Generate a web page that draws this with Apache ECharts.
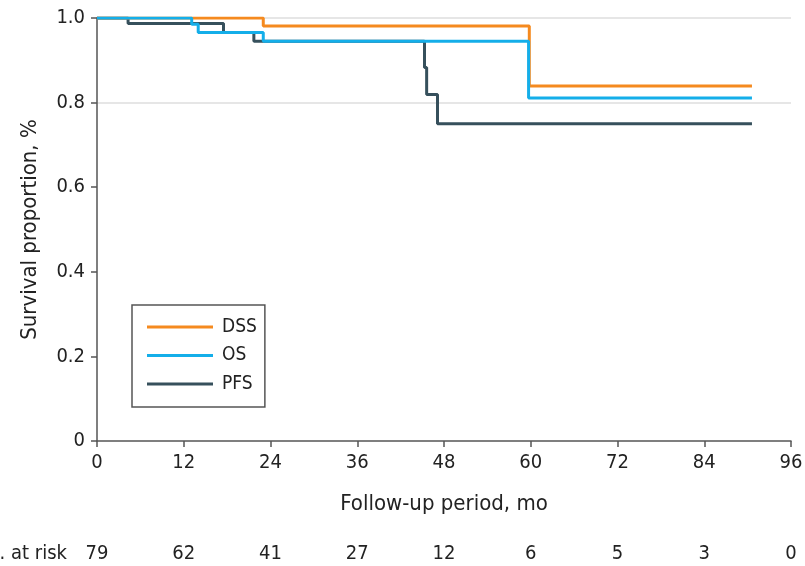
<!DOCTYPE html>
<html>
<head>
<meta charset="utf-8">
<script src="https://cdn.jsdelivr.net/npm/echarts@6/dist/echarts.min.js"></script>
<style>
  html, body { margin: 0; padding: 0; background: #fff; }
  #chart { width: 805px; height: 566px; }
</style>
</head>
<body>
<div id="chart"></div>
<script>
// Kaplan-Meier step points: [month, survival proportion]; value holds until the next point
const dssCurve = [[0, 1.0], [23.0, 0.981], [59.8, 0.839], [90.6, 0.839]];
const osCurve  = [[0, 1.0], [13.1, 0.985], [14.0, 0.966], [23.0, 0.945], [59.7, 0.811], [90.6, 0.811]];
const pfsCurve = [[0, 1.0], [4.3, 0.987], [17.5, 0.966], [21.7, 0.945], [45.3, 0.883], [45.6, 0.819], [47.1, 0.750], [90.6, 0.750]];

const seriesNames = ['DSS', 'OS', 'PFS'];
const seriesColors = ['#F58A1F', '#14AEE9', '#36505C'];
// drawing order: OS on top, then DSS, then PFS
const seriesZ = [2, 3, 1];

// Follow-up ticks (months) and patients at risk at each tick
const monthTicks = [0, 12, 24, 36, 48, 60, 72, 84, 96];
const atRisk = [79, 62, 41, 27, 12, 6, 5, 3, 0];

const FONT = '"Liberation Sans Narrow", "DejaVu Sans Condensed", "Roboto Condensed", "Liberation Sans", sans-serif';
const TXT = '#222';

const chart = echarts.init(document.getElementById('chart'), null, { renderer: 'canvas' });

const curves = [dssCurve, osCurve, pfsCurve];

chart.setOption({
  animation: false,
  backgroundColor: '#fff',
  textStyle: { fontFamily: FONT, color: TXT },
  grid: { left: 97, right: 14, top: 18, bottom: 125, containLabel: false, outerBoundsMode: 'none' },
  legend: {
    orient: 'vertical',
    left: 132,
    top: 305,
    data: seriesNames,
    icon: 'rect',
    itemWidth: 66,
    itemHeight: 3,
    itemGap: 8.5,
    padding: [12, 8, 13, 15],
    borderColor: '#555',
    borderWidth: 1.5,
    borderRadius: 0,
    textStyle: { fontFamily: FONT, fontSize: 19, color: TXT, lineHeight: 20, padding: [0, 0, 0, 4] }
  },
  xAxis: [
    {
      type: 'value',
      min: monthTicks[0],
      max: monthTicks[monthTicks.length - 1],
      interval: 12,
      name: 'Follow-up period, mo',
      nameLocation: 'middle',
      nameGap: 52,
      nameTextStyle: { fontFamily: FONT, fontSize: 22, color: TXT },
      axisLine: { show: true, lineStyle: { color: '#555', width: 1.5 } },
      axisTick: { show: true, length: 6, lineStyle: { color: '#555', width: 1.5 } },
      axisLabel: { margin: 12, fontFamily: FONT, fontSize: 20, color: TXT },
      splitLine: { show: false }
    },
    {
      // "No. at risk" row, aligned with the month ticks
      type: 'value',
      position: 'bottom',
      offset: 101,
      min: monthTicks[0],
      max: monthTicks[monthTicks.length - 1],
      interval: 12,
      name: 'No. at risk',
      nameLocation: 'start',
      nameGap: 30,
      nameTextStyle: { fontFamily: FONT, fontSize: 20, color: TXT, verticalAlign: 'top', padding: [2, 0, 0, 0] },
      axisLine: { show: false },
      axisTick: { show: false },
      splitLine: { show: false },
      axisLabel: {
        margin: 2,
        fontFamily: FONT, fontSize: 20, color: TXT,
        formatter: (v) => {
          const i = monthTicks.indexOf(v);
          return i >= 0 ? String(atRisk[i]) : '';
        }
      }
    }
  ],
  yAxis: {
    type: 'value',
    min: 0,
    max: 1,
    interval: 0.2,
    name: 'Survival proportion, %',
    nameLocation: 'middle',
    nameGap: 56,
    nameTextStyle: { fontFamily: FONT, fontSize: 22, color: TXT },
    axisLine: { show: true, lineStyle: { color: '#555', width: 1.5 } },
    axisTick: { show: true, length: 6, lineStyle: { color: '#555', width: 1.5 } },
    axisLabel: {
      margin: 12, fontFamily: FONT, fontSize: 20, color: TXT,
      formatter: (v) => (v === 0 ? '0' : v.toFixed(1))
    },
    splitLine: {
      show: true,
      lineStyle: { color: ['rgba(0,0,0,0)', 'rgba(0,0,0,0)', 'rgba(0,0,0,0)', 'rgba(0,0,0,0)', '#dedede', '#dedede'], width: 1.5 }
    }
  },
  series: seriesNames.map((name, i) => ({
    name,
    type: 'line',
    xAxisIndex: 0,
    step: 'end',
    data: curves[i],
    showSymbol: false,
    symbol: 'none',
    color: seriesColors[i],
    lineStyle: { color: seriesColors[i], width: 3 },
    z: seriesZ[i]
  }))
});
</script>
</body>
</html>
